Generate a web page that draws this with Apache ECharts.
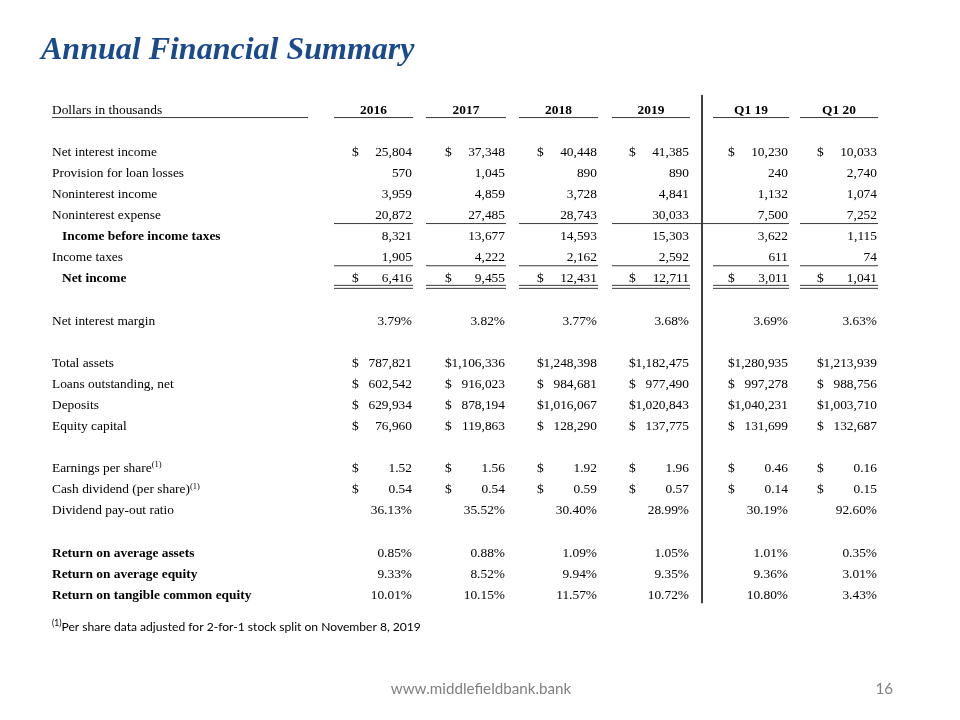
<!DOCTYPE html>
<html><head><meta charset="utf-8">
<script src="https://cdn.jsdelivr.net/npm/echarts@6.0.0/dist/echarts.min.js"></script>
<style>html,body{margin:0;padding:0;background:#fff}#c{width:960px;height:720px}</style>
</head><body><div id="c"></div>
<script>
// ---- data ----
const columns = ['2016', '2017', '2018', '2019', 'Q1 19', 'Q1 20'];
const netInterestIncome   = [25804, 37348, 40448, 41385, 10230, 10033];
const provisionLoanLosses = [570, 1045, 890, 890, 240, 2740];
const noninterestIncome   = [3959, 4859, 3728, 4841, 1132, 1074];
const noninterestExpense  = [20872, 27485, 28743, 30033, 7500, 7252];
const incomeBeforeTaxes   = [8321, 13677, 14593, 15303, 3622, 1115];
const incomeTaxes         = [1905, 4222, 2162, 2592, 611, 74];
const netIncome           = [6416, 9455, 12431, 12711, 3011, 1041];
const netInterestMargin   = [3.79, 3.82, 3.77, 3.68, 3.69, 3.63];
const totalAssets         = [787821, 1106336, 1248398, 1182475, 1280935, 1213939];
const loansOutstanding    = [602542, 916023, 984681, 977490, 997278, 988756];
const deposits            = [629934, 878194, 1016067, 1020843, 1040231, 1003710];
const equityCapital       = [76960, 119863, 128290, 137775, 131699, 132687];
const earningsPerShare    = [1.52, 1.56, 1.92, 1.96, 0.46, 0.16];
const cashDividend        = [0.54, 0.54, 0.59, 0.57, 0.14, 0.15];
const dividendPayout      = [36.13, 35.52, 30.40, 28.99, 30.19, 92.60];
const returnAvgAssets     = [0.85, 0.88, 1.09, 1.05, 1.01, 0.35];
const returnAvgEquity     = [9.33, 8.52, 9.94, 9.35, 9.36, 3.01];
const returnTangibleEq    = [10.01, 10.15, 11.57, 10.72, 10.80, 3.43];

const rows = [
  {label: 'Dollars in thousands', header: true},
  {blank: true},
  {label: 'Net interest income', values: netInterestIncome, kind: 'int', dollar: true},
  {label: 'Provision for loan losses', values: provisionLoanLosses, kind: 'int'},
  {label: 'Noninterest income', values: noninterestIncome, kind: 'int'},
  {label: 'Noninterest expense', values: noninterestExpense, kind: 'int', rule: 'single', joinRule: [3]},
  {label: 'Income before income taxes', values: incomeBeforeTaxes, kind: 'int', bold: true, indent: true},
  {label: 'Income taxes', values: incomeTaxes, kind: 'int', rule: 'single'},
  {label: 'Net income', values: netIncome, kind: 'int', dollar: true, bold: true, indent: true, rule: 'double'},
  {blank: true},
  {label: 'Net interest margin', values: netInterestMargin, kind: 'pct'},
  {blank: true},
  {label: 'Total assets', values: totalAssets, kind: 'int', dollar: true},
  {label: 'Loans outstanding, net', values: loansOutstanding, kind: 'int', dollar: true},
  {label: 'Deposits', values: deposits, kind: 'int', dollar: true},
  {label: 'Equity capital', values: equityCapital, kind: 'int', dollar: true},
  {blank: true},
  {label: 'Earnings per share', sup: '(1)', values: earningsPerShare, kind: 'dec', dollar: true},
  {label: 'Cash dividend (per share)', sup: '(1)', values: cashDividend, kind: 'dec', dollar: true},
  {label: 'Dividend pay-out ratio', values: dividendPayout, kind: 'pct'},
  {blank: true},
  {label: 'Return on average assets', values: returnAvgAssets, kind: 'pct', bold: true},
  {label: 'Return on average equity', values: returnAvgEquity, kind: 'pct', bold: true},
  {label: 'Return on tangible common equity', values: returnTangibleEq, kind: 'pct', bold: true}
];

// ---- layout / style ----
const colStart = [334, 426, 519, 612, 713, 800];
const colEnd   = [413, 506, 598, 690, 789, 878];
const labelX = 52, indentX = 62, labelRuleEnd = 308, dividerX = 702;
const FONT = 'Liberation Serif';
const FS = 13.4;
const ROW_H = 21.1;
const TOP = 99.5;

function fmtInt(v) { return String(v).replace(/\B(?=(\d{3})+(?!\d))/g, ','); }
function fmt(v, kind) {
  if (kind === 'int') return fmtInt(v);
  if (kind === 'pct') return v.toFixed(2) + '%';
  return v.toFixed(2);
}

function txt(x, y, text, align, bold) {
  return {
    type: 'text', x: x, y: y,
    style: {text: text, fill: '#000', fontFamily: FONT, fontSize: FS,
            fontWeight: bold ? 'bold' : 'normal', align: align, verticalAlign: 'middle'}
  };
}
function hline(x1, x2, y, color, w) {
  return {type: 'line', shape: {x1: x1, y1: y, x2: x2, y2: y},
          style: {stroke: color || '#3a3a3a', lineWidth: w || 1}};
}

function renderRow(params, api) {
  const i = api.value(1);
  const row = rows[i];
  const children = [];
  if (!row || row.blank) return {type: 'group', children: children};
  const yc = api.coord([0, i])[1];
  const X = v => api.coord([v, i])[0];
  if (row.header) {
    children.push(txt(X(labelX), yc, row.label, 'left', false));
    children.push(hline(X(labelX), X(labelRuleEnd), yc + 7.5));
    columns.forEach((c, k) => {
      children.push(txt(X((colStart[k] + colEnd[k]) / 2), yc, c, 'center', true));
      children.push(hline(X(colStart[k]), X(colEnd[k]), yc + 7.5));
    });
    const yTop = yc - 15;
    const yBot = api.coord([0, rows.length - 1])[1] + 8;
    children.push({type: 'line', shape: {x1: X(dividerX), y1: yTop, x2: X(dividerX), y2: yBot},
                   style: {stroke: '#111', lineWidth: 1.6}});
    return {type: 'group', children: children};
  }
  const lx = X(row.indent ? indentX : labelX);
  if (row.sup) {
    children.push({
      type: 'text', x: lx, y: yc,
      style: {
        text: '{a|' + row.label + '}{s|' + row.sup + '}',
        align: 'left', verticalAlign: 'middle',
        rich: {
          a: {fontFamily: FONT, fontSize: FS, fill: '#000', lineHeight: 16},
          s: {fontFamily: FONT, fontSize: 8.5, fill: '#000', lineHeight: 8, verticalAlign: 'top'}
        }
      }
    });
  } else {
    children.push(txt(lx, yc, row.label, 'left', row.bold));
  }
  row.values.forEach((v, k) => {
    const right = colEnd[k] - 1;
    children.push(txt(X(right), yc, fmt(v, row.kind), 'right', false));
    if (row.dollar) children.push(txt(X(right - 60), yc, '$', 'left', false));
    if (row.rule) {
      const x2 = (row.joinRule && row.joinRule.indexOf(k) >= 0) ? colStart[k + 1] : colEnd[k];
      if (row.rule === 'single') {
        children.push(hline(X(colStart[k]), X(x2), yc + 8));
      } else {
        children.push(hline(X(colStart[k]), X(x2), yc + 6.5));
        children.push(hline(X(colStart[k]), X(x2), yc + 9.5));
      }
    }
  });
  return {type: 'group', children: children};
}

const chart = echarts.init(document.getElementById('c'), null, {renderer: 'canvas'});
chart.setOption({
  animation: false,
  backgroundColor: '#fff',
  grid: {left: 0, right: 0, top: TOP, height: rows.length * ROW_H},
  xAxis: {type: 'value', min: 0, max: 960, show: false},
  yAxis: {type: 'category', inverse: true, show: false, data: rows.map((r, i) => 'r' + i)},
  series: [{
    type: 'custom',
    coordinateSystem: 'cartesian2d',
    clip: false,
    silent: true,
    renderItem: renderRow,
    encode: {x: 0, y: 1},
    data: rows.map((r, i) => [0, i])
  }],
  graphic: [
    {type: 'text', left: 41, top: 35,
     style: {text: 'Annual Financial Summary', fill: '#1A4A8C', fontFamily: FONT,
             fontSize: 32, fontWeight: 'bold', fontStyle: 'italic'}},
    {type: 'text', left: 52, top: 619,
     style: {text: '{s|(1)}{t|Per share data adjusted for 2-for-1 stock split on November 8, 2019}',
             rich: {
               s: {fontFamily: 'Lato', fontSize: 8.5, fill: '#000', lineHeight: 8, verticalAlign: 'top'},
               t: {fontFamily: 'Lato', fontSize: 12.1, fill: '#000', lineHeight: 16}
             }}},
    {type: 'text', x: 481, y: 689,
     style: {text: 'www.middlefieldbank.bank', fill: '#808080', fontFamily: 'Lato', fontSize: 15.2,
             align: 'center', verticalAlign: 'middle'}},
    {type: 'text', x: 893, y: 689,
     style: {text: '16', fill: '#808080', fontFamily: 'Lato', fontSize: 15.2,
             align: 'right', verticalAlign: 'middle'}}
  ]
});
</script>
</body></html>
